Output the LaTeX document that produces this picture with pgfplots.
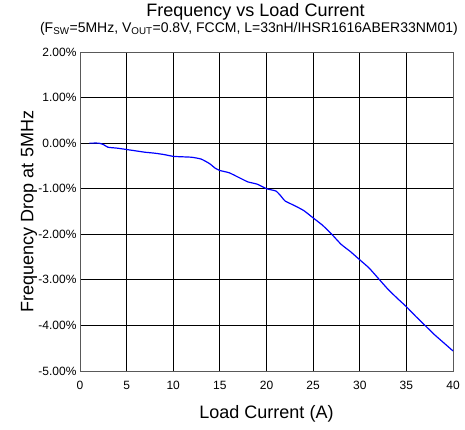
\documentclass[border=0pt]{standalone}
\usepackage{pgfplots}
\pgfplotsset{compat=1.18}
\usepackage{fontspec}
\setmainfont{Liberation Sans}
\begin{document}
\begin{tikzpicture}
\begin{axis}[
  scale only axis,
  width=373pt, height=319pt,
  xmin=0, xmax=40, ymin=-5, ymax=2,
  xtick={0,5,...,40},
  xticklabels={0,5,10,15,20,25,30,35,40},
  ytick={-5,-4,...,2},
  yticklabels={-5.00\%,-4.00\%,-3.00\%,-2.00\%,-1.00\%,0.00\%,1.00\%,2.00\%},
  tick label style={font=\fontsize{12}{14}\selectfont},
  tick style={draw=none},
  grid=major,
  major grid style={black, line width=0.8pt},
  axis line style={black!65, line width=0.9pt},
  xlabel={Load Current (A)},
  ylabel={Frequency Drop at 5MHz},
  label style={font=\fontsize{18}{21}\selectfont},
  xlabel style={at={(rel axis cs:0.5,0)}, anchor=center, yshift=-43pt},
  ylabel style={at={(rel axis cs:0,0.5)}, anchor=center, yshift=51pt},
  xticklabel style={yshift=-7pt},
  clip=false,
]
\addplot[blue, line width=1.2pt, smooth, tension=0.3] coordinates {
(1,0) (2,0) (2.5,-0.03) (3,-0.09) (4,-0.11) (5,-0.14) (6,-0.17) (7,-0.2) (8,-0.22) (9,-0.25) (10,-0.29) (11,-0.30) (12,-0.31) (13,-0.35) (13.9,-0.45) (14.5,-0.55) (15,-0.6) (16,-0.65) (17,-0.75) (18,-0.85) (19,-0.9) (20,-1.0) (21,-1.05) (21.5,-1.15) (22,-1.27) (23,-1.37) (24,-1.48) (25,-1.64) (26,-1.8) (27,-2.0) (28,-2.22) (29,-2.38) (30,-2.56) (31,-2.74) (32,-2.97) (33,-3.2) (34,-3.4) (35,-3.59) (36,-3.8) (37,-4.0) (38,-4.2) (39,-4.38) (40,-4.56)
};
\coordinate (sw) at (rel axis cs:0,0);
\coordinate (ne) at (rel axis cs:1,1);
\coordinate (tl) at (rel axis cs:0,1);
\end{axis}
\node[font=\fontsize{18}{21}\selectfont, anchor=center] at ([shift={(175.5pt,40pt)}]tl) {Frequency vs Load Current};
\node[font=\fontsize{14}{16}\selectfont, anchor=center] at ([shift={(169pt,23pt)}]tl) {(F\textsubscript{SW}=5MHz, V\textsubscript{OUT}=0.8V, FCCM, L=33nH/IHSR1616ABER33NM01)};
\pgfresetboundingbox
\path ([shift={(-80pt,-59pt)}]sw) rectangle ([shift={(12pt,52pt)}]ne);
\end{tikzpicture}
\end{document}
